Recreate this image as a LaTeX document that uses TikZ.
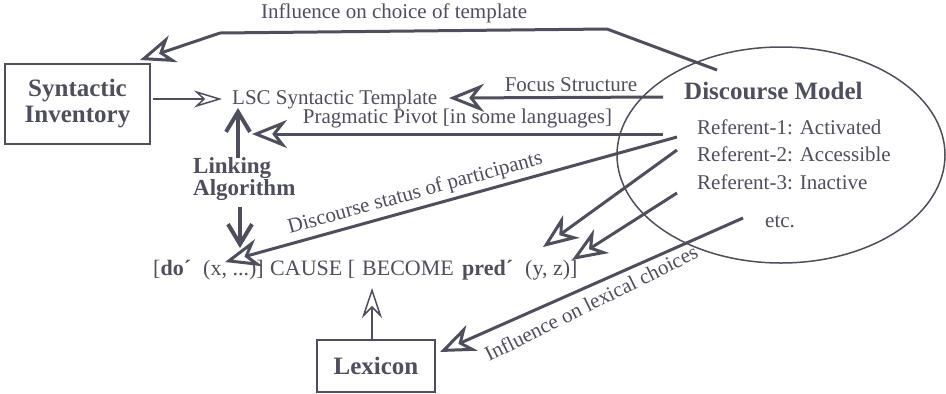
\documentclass[tikz,border=0pt]{standalone}
\usepackage{fontspec}
\setmainfont{Liberation Serif}
\usetikzlibrary{arrows.meta,shapes.geometric}
\definecolor{ink}{RGB}{78,78,92}
\tikzset{
  boxn/.style={draw=ink, line width=1.5bp, inner sep=0pt, align=center},
  title/.style={font=\fontsize{25bp}{26bp}\selectfont\bfseries, text=ink, inner sep=0pt},
  lbl/.style={font=\fontsize{21bp}{24bp}\selectfont, text=ink, inner sep=0pt},
  fml/.style={font=\fontsize{22bp}{24bp}\selectfont, text=ink, inner sep=0pt, anchor=base west},
  bigarr/.style={draw=ink, line width=3bp, -{Stealth[open, length=35bp, width=28bp, inset=11bp]}},
  thinarr/.style={draw=ink, line width=1.5bp, -{Stealth[open, length=28bp, width=17bp, inset=9bp]}},
  lexarr/.style={draw=ink, line width=1.5bp, -{Stealth[open, length=30bp, width=20bp, inset=10bp]}},
  linkarr/.style={draw=ink, line width=4bp, -{Straight Barb[length=20bp, width=24bp]}},
}
\begin{document}
\begin{tikzpicture}[x=1bp,y=-1bp]
\path[use as bounding box] (0,0) rectangle (946,393);
% boxes
\node[boxn, title, minimum width=145bp, minimum height=80bp, font=\fontsize{25bp}{26bp}\selectfont\bfseries] (synt) at (77.5,104) {Syntactic\\Inventory};
\node[boxn, title, minimum width=118bp, minimum height=52bp, font=\fontsize{25bp}{26bp}\selectfont\bfseries] (lex) at (376,366) {Lexicon};
% ellipse
\node[draw=ink, line width=1.5bp, ellipse, minimum width=328bp, minimum height=216bp, inner sep=0pt] (dm) at (781,155) {};
\node[title, anchor=west] (dmt) at (684,91) {Discourse Model};
\node[lbl, anchor=west] (r1) at (697,127) {Referent-1: Activated};
\node[lbl, anchor=west] (r2) at (697,154) {Referent-2: Accessible};
\node[lbl, anchor=west] (r3) at (697,182) {Referent-3: Inactive};
\node[lbl, anchor=west] (etc) at (765,222) {etc.};
% central texts
\node[lbl, anchor=west] (lsc) at (232,99) {LSC Syntactic Template};
\node[title, anchor=west, align=left, font=\fontsize{23bp}{22bp}\selectfont\bfseries] (link) at (193,179) {Linking\\Algorithm};
% formula
\node[fml] (f1) at (153,275) {[\textbf{do´}};
\node[fml] (f2) at (203,275) {(x, ...)]};
\node[fml] (f3) at (270,275) {CAUSE [};
\node[fml] (f4) at (362,275) {BECOME};
\node[fml] (f5) at (462,275) {\textbf{pred´}};
\node[fml] (f6) at (525,275) {(y, z)]};
% coordinates
\coordinate (tplS) at (717,70);
\coordinate (tplA) at (607,29);
\coordinate (tplB) at (220,33);
\coordinate (tplT) at (140,60);
\coordinate (fsS) at (663,97);
\coordinate (fsT) at (449,98);
\coordinate (ppS) at (663,134);
\coordinate (ppT) at (252,134);
\coordinate (dsS) at (677,137);
\coordinate (dsT) at (225,262);
\coordinate (aS) at (677,150);
\coordinate (aT) at (543,247);
\coordinate (bS) at (677,193);
\coordinate (bT) at (572,260);
\coordinate (lcS) at (743,218);
\coordinate (lcT) at (440,352);
\coordinate (luS) at (238,158);
\coordinate (luT) at (238,108);
\coordinate (ldS) at (240,207);
\coordinate (ldT) at (240,248);
\coordinate (siS) at (153,99);
\coordinate (siT) at (222,99);
\coordinate (lxT) at (372,288);
% connectors
\draw[bigarr] (tplS) -- (tplA) -- node[lbl, above=7bp, pos=0.55] {Influence on choice of template} (tplB) -- (tplT);
\draw[bigarr] (fsS) -- node[lbl, above=4bp, pos=0.43] {Focus Structure} (fsT);
\draw[bigarr] (ppS) -- node[lbl, above=4bp, pos=0.5] {Pragmatic Pivot [in some languages]} (ppT);
\draw[bigarr] (dsS) -- node[lbl, sloped, above=4bp, pos=0.57] {Discourse status of participants} (dsT);
\draw[bigarr] (aS) -- (aT);
\draw[bigarr] (bS) -- (bT);
\draw[bigarr] (lcS) -- (lcT);
\node[lbl, rotate=26.5] (lct) at (591,303) {Influence on lexical choices};
\draw[thinarr] (siS) -- (siT);
\draw[lexarr] (lex.north -| lxT) -- (lxT);
\draw[linkarr] (luS) -- (luT);
\draw[linkarr] (ldS) -- (ldT);
\end{tikzpicture}
\end{document}
